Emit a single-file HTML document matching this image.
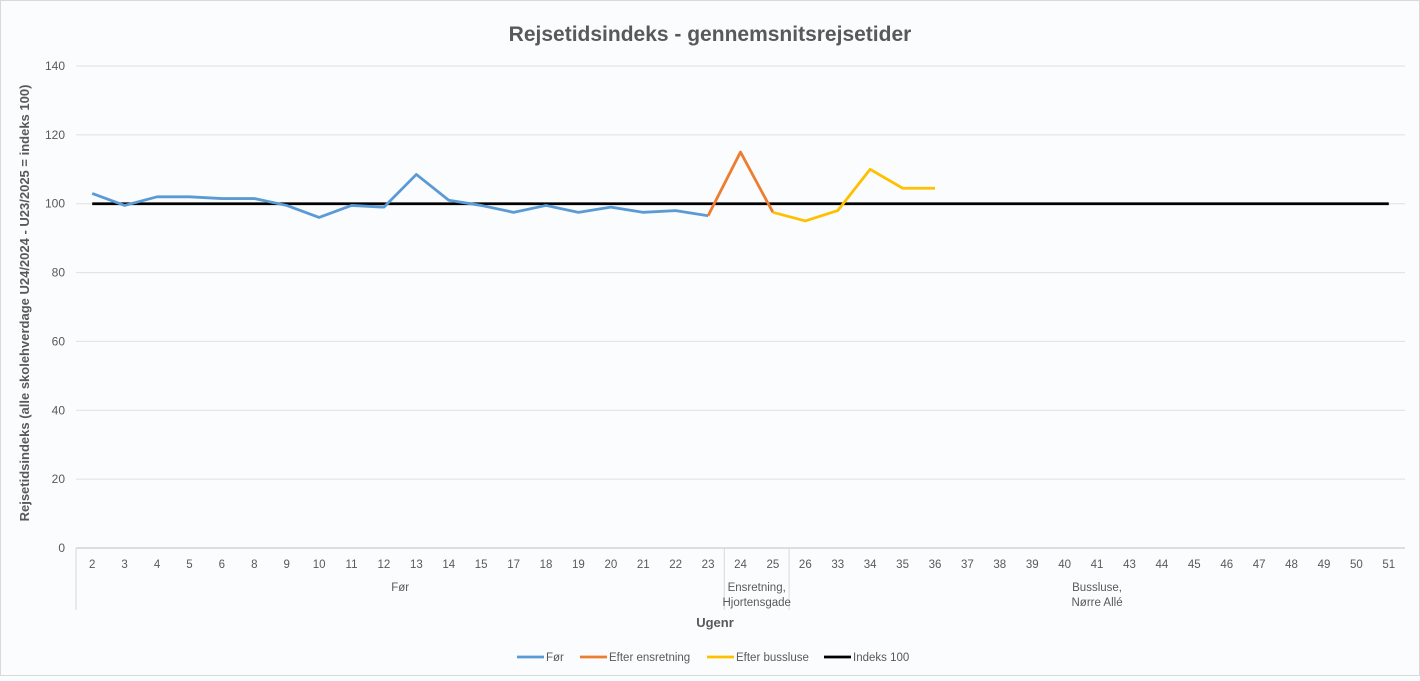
<!DOCTYPE html>
<html><head><meta charset="utf-8"><style>
body{margin:0;background:#fbfcfd;font-family:"Liberation Sans",sans-serif;}
svg text{font-family:"Liberation Sans",sans-serif;}
</style></head><body>
<svg id="chart" width="1420" height="676" xmlns="http://www.w3.org/2000/svg">
<rect x="0.5" y="0.5" width="1419" height="675" fill="#fbfcfd" stroke="#d9d9d9"/>
<text x="710" y="41" text-anchor="middle" font-size="21" font-weight="bold" fill="#595959">Rejsetidsindeks - gennemsnitsrejsetider</text>
<text transform="translate(29,303) rotate(-90)" text-anchor="middle" font-size="13" font-weight="bold" fill="#595959">Rejsetidsindeks (alle skolehverdage U24/2024 - U23/2025 = indeks 100)</text>
<text x="715" y="627" text-anchor="middle" font-size="13" font-weight="bold" fill="#595959">Ugenr</text>
<g id="grid"></g><g id="xaxis"></g><g id="series"></g><g id="legend"></g>
</svg>
<script>
const categories=["2","3","4","5","6","8","9","10","11","12","13","14","15","17","18","19","20","21","22","23","24","25","26","33","34","35","36","37","38","39","40","41","43","44","45","46","47","48","49","50","51"];
const yTicks=[0,20,40,60,80,100,120,140];
const forValues=[103,99.5,102,102,101.5,101.5,99.5,96,99.5,99,108.5,101,99.5,97.5,99.5,97.5,99,97.5,98,96.5];
const ensretValues=[96.5,115,97.5];
const ensretStart=19;
const busslusValues=[97.5,95,98,110,104.5,104.5];
const busslusStart=21;
const index100=100;
const groups=[{label:["Før"],from:0,to:19},{label:["Ensretning,","Hjortensgade"],from:20,to:21},{label:["Bussluse,","Nørre Allé"],from:22,to:40}];
const NS="http://www.w3.org/2000/svg";
const X0=76,X1=1405,Y0=548,Y1=66;
const cw=(X1-X0)/categories.length;
const x=i=>X0+cw*(i+0.5);
const y=v=>Y0-(v-0)/(140-0)*(Y0-Y1);
function mk(tag,attrs,parent){const e=document.createElementNS(NS,tag);for(const k in attrs)e.setAttribute(k,attrs[k]);parent.appendChild(e);return e;}
const grid=document.getElementById('grid');
yTicks.forEach(t=>{
 const l=mk('line',{x1:X0,x2:X1,y1:y(t),y2:y(t),stroke:t===0?'#bfbfbf':'#e0e0e0','stroke-width':1},grid);
 
 
 const tx=mk('text',{x:X0-11,y:y(t)+4,'text-anchor':'end','font-size':12,fill:'#595959'},grid);
 tx.textContent=t;
 
 
});
const xa=document.getElementById('xaxis');
categories.forEach((c,i)=>{
 const t=mk('text',{x:x(i),y:568,'text-anchor':'middle','font-size':11.5,fill:'#595959'},xa);
 t.textContent=c;
 
 
});
[0,20,22].forEach(i=>{
 const l=mk('line',{x1:X0+cw*i,x2:X0+cw*i,y1:Y0,y2:610,stroke:'#d9d9d9'},xa);
 
 
});
groups.forEach(g=>{
 const cx=(x(g.from)+x(g.to))/2;
 g.label.forEach((s,k)=>{
  const t=mk('text',{x:cx,y:591+k*15,'text-anchor':'middle','font-size':11.5,fill:'#595959'},xa);
  t.textContent=s;
  
  
 });
});
const ser=document.getElementById('series');
function line(vals,start,color,name){
 const p=mk('polyline',{points:vals.map((v,k)=>x(start+k)+','+y(v)).join(' '),fill:'none',stroke:color,'stroke-width':2.8,'stroke-linejoin':'round'},ser);
 
 
}
line(categories.map(()=>index100),0,'#000000','series-indeks-100');
line(forValues,0,'#5b9bd5','series-foer');
line(ensretValues,ensretStart,'#ed7d31','series-efter-ensretning');
line(busslusValues,busslusStart,'#ffc000','series-efter-bussluse');
const lg=document.getElementById('legend');
[["Før","#5b9bd5",517],["Efter ensretning","#ed7d31",580],["Efter bussluse","#ffc000",707],["Indeks 100","#000000",824]].forEach(([n,c,lx])=>{
 const g=mk('g',{},lg);
 
 
 mk('line',{x1:lx,x2:lx+27,y1:657,y2:657,stroke:c,'stroke-width':2.8},g);
 const t=mk('text',{x:lx+29,y:661,'font-size':11.5,fill:'#595959'},g);
 t.textContent=n;
});
</script>
</body></html>
